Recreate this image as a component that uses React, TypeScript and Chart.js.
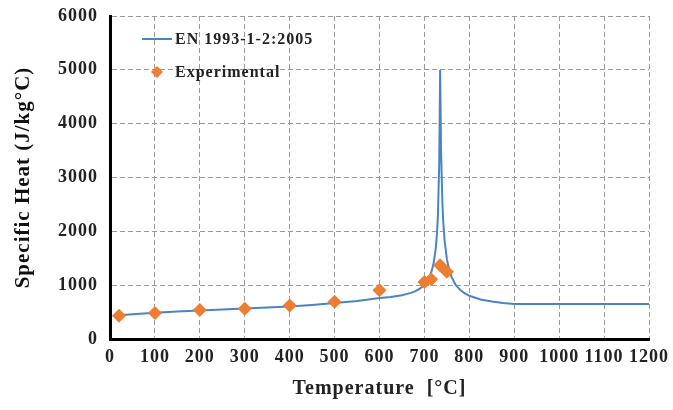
import React, { useEffect, useRef } from "react";
import { Chart, registerables } from "chart.js";

Chart.register(...registerables);

// EN 1993-1-2:2005 curve (temperature °C, specific heat J/kg°C)
const curveT = [20, 50, 100, 150, 200, 250, 300, 350, 400, 450, 500, 550, 600, 625, 650, 670, 680, 690, 700, 710, 715, 720, 725, 728, 730, 733, 735, 737, 740, 742, 745, 750, 755, 760, 770, 780, 790, 800, 825, 850, 875, 900, 1200];
const curveC = [440, 460, 488, 510, 530, 547, 565, 584, 606, 633, 667, 708, 760, 781, 814, 857, 890, 937, 1008, 1130, 1231, 1388, 1666, 1966, 2291, 3266, 5000, 3515, 2525, 2165, 1818, 1483, 1288, 1159, 1002, 909, 847, 803, 735, 695, 669, 650, 650];

// Experimental points
const expT = [20, 100, 200, 300, 400, 500, 600, 700, 715, 735, 750];
const expC = [430, 485, 540, 560, 620, 690, 905, 1060, 1110, 1370, 1250];

const seriesNames = ["EN 1993-1-2:2005", "Experimental"];
const xTitle = "Temperature  [°C]";
const yTitle = "Specific Heat (J/kg°C)";

const BLUE = "#4a84c4";
const ORANGE = "#ed7d31";
const SERIF = "'Liberation Serif', 'Times New Roman', serif";

export default function App() {
  const ref = useRef<HTMLCanvasElement>(null);
  useEffect(() => {
    const spacing = {
      id: "spacing",
      beforeUpdate(chart: any) {
        chart.ctx.letterSpacing = "1px";
      },
      beforeDraw(chart: any) {
        chart.ctx.letterSpacing = "1px";
      },
    };
    const legendIn = {
      id: "legendIn",
      afterDraw(chart: any) {
        const ctx = chart.ctx;
        ctx.save();
        ctx.letterSpacing = "1px";
        ctx.font = `bold 16px ${SERIF}`;
        ctx.fillStyle = "#222";
        ctx.textBaseline = "middle";
        ctx.textAlign = "left";
        ctx.strokeStyle = BLUE;
        ctx.lineWidth = 2;
        ctx.beginPath();
        ctx.moveTo(142, 39);
        ctx.lineTo(172, 39);
        ctx.stroke();
        ctx.fillText(seriesNames[0], 175, 40);
        ctx.fillStyle = ORANGE;
        ctx.beginPath();
        ctx.moveTo(157, 66);
        ctx.lineTo(163, 72);
        ctx.lineTo(157, 78);
        ctx.lineTo(151, 72);
        ctx.closePath();
        ctx.fill();
        ctx.fillStyle = "#222";
        ctx.fillText(seriesNames[1], 175, 73);
        ctx.restore();
      },
    };
    const chart = new Chart(ref.current!, {
      type: "scatter",
      data: {
        datasets: [
          {
            label: seriesNames[0],
            data: curveT.map((t, i) => ({ x: t, y: curveC[i] })),
            showLine: true,
            borderColor: BLUE,
            backgroundColor: BLUE,
            borderWidth: 2,
            pointRadius: 0,
            tension: 0,
            order: 2,
          },
          {
            label: seriesNames[1],
            data: expT.map((t, i) => ({ x: t, y: expC[i] })),
            showLine: false,
            pointStyle: "rectRot",
            pointRadius: 7,
            backgroundColor: ORANGE,
            borderColor: ORANGE,
            borderWidth: 0,
            order: 1,
          },
        ],
      },
      options: {
        animation: false,
        responsive: false,
        maintainAspectRatio: false,
        layout: { padding: { top: 16, right: 24, left: 0, bottom: 0 } },
        plugins: { legend: { display: false }, tooltip: { enabled: false } },
        scales: {
          x: {
            type: "linear",
            min: 0,
            max: 1200,
            ticks: {
              stepSize: 100,
              padding: 8,
              color: "#222",
              font: { family: SERIF, size: 18, weight: "bold" },
              maxRotation: 0,
              autoSkip: false,
              callback: (v: any) => String(v),
            },
            grid: { color: "#9a9a9a", lineWidth: 1, tickLength: 0 },
            border: { color: "#000", width: 3, dash: [5, 3] },
            title: {
              display: true,
              text: xTitle,
              color: "#222",
              font: { family: SERIF, size: 20, weight: "bold" },
              padding: { top: 9, bottom: 9 },
            },
            afterFit(s: any) {
              s.height = 71;
              s.paddingLeft = 0;
              s.paddingRight = 0;
            },
          },
          y: {
            type: "linear",
            min: 0,
            max: 6000,
            ticks: {
              stepSize: 1000,
              padding: 12,
              color: "#222",
              font: { family: SERIF, size: 18, weight: "bold" },
              callback: (v: any) => String(v),
            },
            grid: { color: "#9a9a9a", lineWidth: 1, tickLength: 0 },
            border: { color: "#000", width: 3, dash: [5, 3] },
            title: {
              display: true,
              text: yTitle,
              color: "#111",
              font: { family: SERIF, size: 21, weight: "bold" },
              padding: { top: 11, bottom: 0 },
            },
            afterFit(s: any) {
              s.width = 110;
              s.paddingTop = 0;
              s.paddingBottom = 0;
            },
          },
        },
      },
      plugins: [spacing, legendIn],
    });
    return () => chart.destroy();
  }, []);
  return (
    <div style={{ position: "fixed", left: 0, top: 0, width: 673, height: 410, background: "#fff" }}>
      <canvas ref={ref} width={673} height={410} style={{ width: 673, height: 410 }} />
    </div>
  );
}
